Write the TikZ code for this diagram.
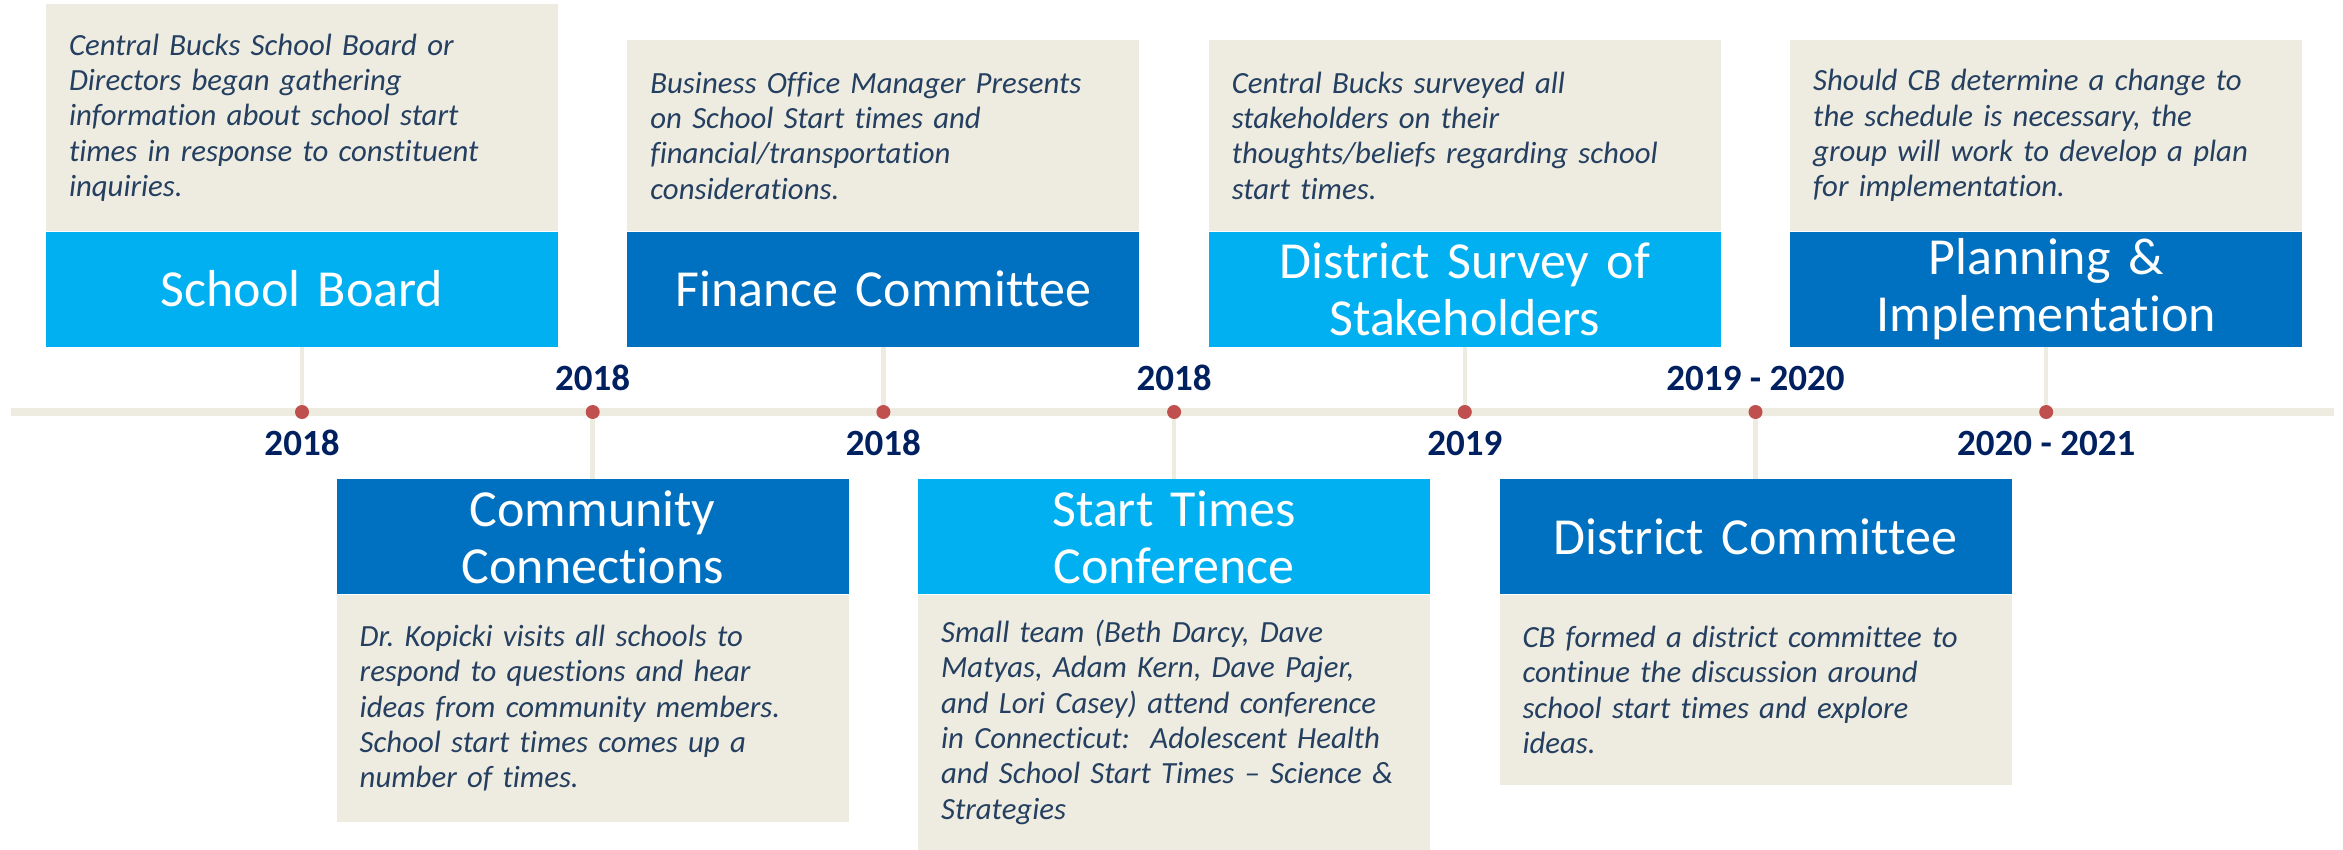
\documentclass[tikz,border=0pt]{standalone}
\usepackage{fontspec}
\setmainfont{Carlito}[Ligatures=NoCommon]
\usetikzlibrary{positioning,backgrounds}

\definecolor{lightblue}{HTML}{00B0F0}
\definecolor{darkblue}{HTML}{0070C0}
\definecolor{tan}{HTML}{EEECE1}
\definecolor{dotred}{HTML}{C0504D}
\definecolor{navy}{HTML}{002060}
\definecolor{notetext}{HTML}{243F60}
\frenchspacing

\begin{document}
\begin{tikzpicture}[x=1pt,y=-1pt,
    headbox/.style={minimum width=512pt,minimum height=115pt,inner xsep=25pt,inner ysep=0pt,
        text width=462pt,align=center,text=white,font={\fontsize{52}{57}\selectfont}},
    notebox/.style={fill=tan,minimum width=512pt,inner xsep=23pt,inner ysep=0pt,
        text width=466pt,align=left,text=notetext,font={\itshape\fontsize{30.8}{35.3}\selectfont}},
    stopdot/.style={circle,fill=dotred,minimum size=14pt,inner sep=0pt},
    yearlbl/.style={text=navy,font={\bfseries\fontsize{37}{40}\selectfont}},
    stemline/.style={draw=tan,line width=4.5pt},
    axisline/.style={draw=tan,line width=8pt}]
    \useasboundingbox (0,0) rectangle (2343,849);

    \coordinate (tl1) at (11,412);
    \coordinate (tl2) at (2334,412);

    \node[stopdot] (d1) at (302,412) {};
    \node[stopdot,right=276.3pt of d1] (d2) {};
    \node[stopdot,right=276.3pt of d2] (d3) {};
    \node[stopdot,right=276.3pt of d3] (d4) {};
    \node[stopdot,right=276.3pt of d4] (d5) {};
    \node[stopdot,right=276.3pt of d5] (d6) {};
    \node[stopdot,right=276.3pt of d6] (d7) {};

    \node[headbox,fill=lightblue,above=58pt of d1] (t1) {School Board};
    \node[notebox,minimum height=227pt,above=0pt of t1] (n1) {Central Bucks School Board or\\Directors began gathering\\information about school start\\times in response to constituent\\inquiries.};
    \node[yearlbl,on grid,below=31pt of d1] (y1) {2018};

    \node[headbox,fill=darkblue,below=60pt of d2] (t2) {Community\\Connections};
    \node[notebox,minimum height=227pt,below=0pt of t2] (n2) {Dr. Kopicki visits all schools to\\respond to questions and hear\\ideas from community members.\\School start times comes up a\\number of times.};
    \node[yearlbl,on grid,above=34pt of d2] (y2) {2018};

    \node[headbox,fill=darkblue,above=58pt of d3] (t3) {Finance Committee};
    \node[notebox,minimum height=191pt,above=0pt of t3] (n3) {Business Office Manager Presents\\on School Start times and\\financial/transportation\\considerations.};
    \node[yearlbl,on grid,below=31pt of d3] (y3) {2018};

    \node[headbox,fill=lightblue,below=60pt of d4] (t4) {Start Times\\Conference};
    \node[notebox,minimum height=255pt,below=0pt of t4] (n4) {Small team (Beth Darcy, Dave\\Matyas, Adam Kern, Dave Pajer,\\and Lori Casey) attend conference\\in Connecticut:\ \ Adolescent Health\\and School Start Times – Science \&\\Strategies};
    \node[yearlbl,on grid,above=34pt of d4] (y4) {2018};

    \node[headbox,fill=lightblue,above=58pt of d5] (t5) {District Survey of\\Stakeholders};
    \node[notebox,minimum height=191pt,above=0pt of t5] (n5) {Central Bucks surveyed all\\stakeholders on their\\thoughts/beliefs regarding school\\start times.};
    \node[yearlbl,on grid,below=31pt of d5] (y5) {2019};

    \node[headbox,fill=darkblue,below=60pt of d6] (t6) {District Committee};
    \node[notebox,minimum height=190pt,below=0pt of t6] (n6) {CB formed a district committee to\\continue the discussion around\\school start times and explore\\ideas.};
    \node[yearlbl,on grid,above=34pt of d6] (y6) {2019 - 2020};

    \node[headbox,fill=darkblue,above=58pt of d7] (t7) {Planning \&\\Implementation};
    \node[notebox,minimum height=191pt,above=0pt of t7] (n7) {Should CB determine a change to\\the schedule is necessary, the\\group will work to develop a plan\\for implementation.};
    \node[yearlbl,on grid,below=31pt of d7] (y7) {2020 - 2021};

    \begin{scope}[on background layer]
        \draw[axisline] (tl1) -- (tl2);
        \draw[stemline] (t1) -- (d1);
        \draw[stemline] (d2) -- (t2);
        \draw[stemline] (t3) -- (d3);
        \draw[stemline] (d4) -- (t4);
        \draw[stemline] (t5) -- (d5);
        \draw[stemline] (d6) -- (t6);
        \draw[stemline] (t7) -- (d7);
    \end{scope}
\end{tikzpicture}
\end{document}
